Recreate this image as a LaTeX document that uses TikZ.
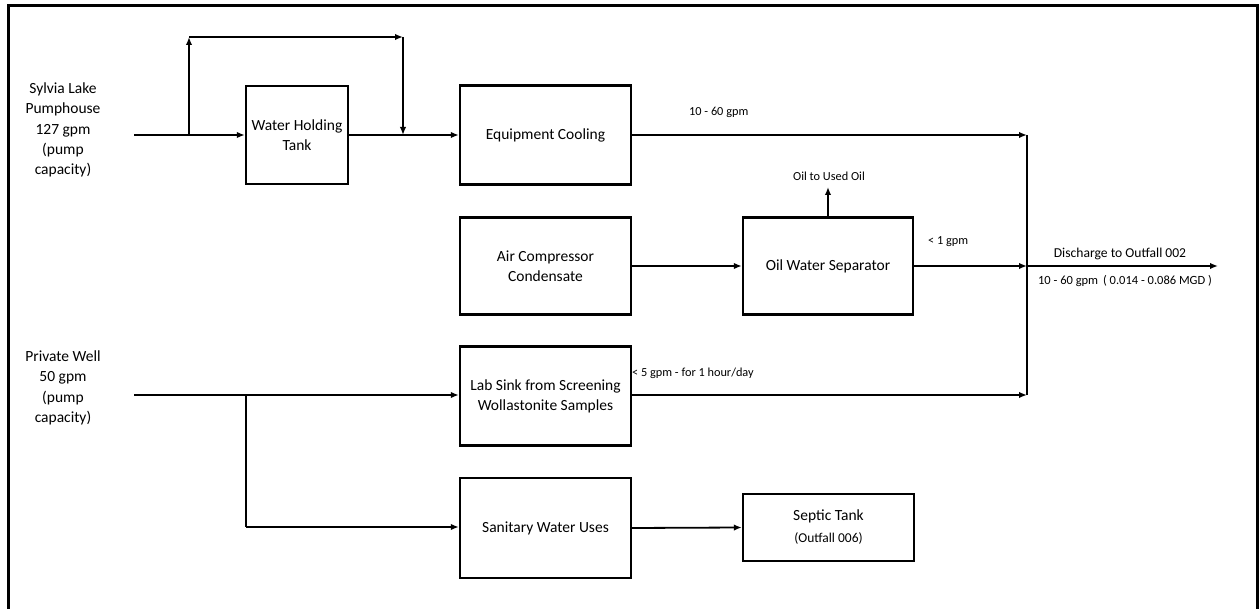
\documentclass[tikz,border=0pt]{standalone}
\usepackage{fontspec}
\setmainfont{Carlito}
\usetikzlibrary{arrows.meta}
\tikzset{
  box/.style={draw, line width=2.4pt, rectangle, align=center, inner sep=2pt, font=\fontsize{15.5}{20}\selectfont},
  flow/.style={line width=1.8pt, -{Latex[length=8pt,width=6.5pt]}},
  plain/.style={line width=1.8pt},
  lbl/.style={inner sep=0pt, font=\fontsize{12.3}{15}\selectfont},
  src/.style={align=center, inner sep=0pt, font=\fontsize{15.5}{20.3}\selectfont},
}
\begin{document}
\begin{tikzpicture}[x=1pt,y=-1pt]
\useasboundingbox (0,0) rectangle (1259,609);
\draw[line width=3pt] (8,615) -- (8,6) -- (1257,6) -- (1257,615);

% boxes
\node[box, minimum width=102pt, minimum height=98pt] (tank) at (297,135) {Water Holding\\Tank};
\node[box, minimum width=171pt, minimum height=99pt] (ec) at (545.5,135) {Equipment Cooling};
\node[box, minimum width=171pt, minimum height=97pt] (acc) at (545.5,266) {Air Compressor\\Condensate};
\node[box, minimum width=170pt, minimum height=97pt] (ows) at (828,266) {Oil Water Separator};
\node[box, minimum width=171pt, minimum height=99pt] (lab) at (545.5,396) {Lab Sink from Screening\\Wollastonite Samples};
\node[box, minimum width=171pt, minimum height=100pt] (san) at (545.5,528) {Sanitary Water Uses};
\node[box, minimum width=171pt, minimum height=67pt, align=center] (sep) at (828.5,527.5) {Septic Tank\\[2pt]{\fontsize{13.5}{16}\selectfont (Outfall 006)}};

% source texts
\node[src] (sylvia) at (63,130) {Sylvia Lake\\Pumphouse\\127 gpm\\(pump\\capacity)};
\node[src] (well) at (63,388) {Private Well\\50 gpm\\(pump\\capacity)};

% labels
\node[lbl, anchor=west] (l1) at (689,112) {10 - 60 gpm};
\node[lbl] (oil) at (829,176) {Oil to Used Oil};
\node[lbl, anchor=west] (l2) at (928,242) {< 1 gpm};
\node[lbl, anchor=west] (l3) at (632,373) {< 5 gpm - for 1 hour/day};
\node[inner sep=0pt, font=\fontsize{13.6}{16}\selectfont] (dis) at (1120,254) {Discharge to Outfall 002};
\node[inner sep=0pt, font=\fontsize{12.5}{15}\selectfont] (disq) at (1125,281) {10 - 60 gpm \,( 0.014 - 0.086 MGD )};

% coordinates
\coordinate (sIn) at (134,135);
\coordinate (b1) at (189,135);
\coordinate (b2) at (189,37);
\coordinate (b3) at (403,37);
\coordinate (b4) at (403,135);
\coordinate (c1) at (1027,135);
\coordinate (c2) at (1027,266);
\coordinate (c3) at (1027,395);
\coordinate (dOut) at (1218,266);
\coordinate (oilTip) at (828,187);
\coordinate (pIn) at (134,395);
\coordinate (p1) at (246,395);
\coordinate (p2) at (246,527);

% connectors
\draw[flow] (sIn) -- (tank.west);
\draw[flow] (b1) -- (b2);
\draw[flow] (b2) -- (b3);
\draw[flow] (b3) -- (b4);
\draw[flow] (tank.east) -- (ec.west);
\draw[flow] (ec.east) -- (c1);
\draw[flow] (acc.east |- ows.west) -- (ows.west);
\draw[flow] (ows.north) -- (oilTip);
\draw[flow] (ows.east) -- (c2);
\draw[flow] (lab.east |- c3) -- (c3);
\draw[plain] (c1) -- (c3);
\draw[flow] (c2) -- (dOut);
\draw[flow] (pIn) -- (lab.west |- pIn);
\draw[plain] (p1) -- (p2);
\draw[flow] (p2) -- (san.west |- p2);
\draw[flow] (san.east) -- (sep.west);
\end{tikzpicture}
\end{document}
